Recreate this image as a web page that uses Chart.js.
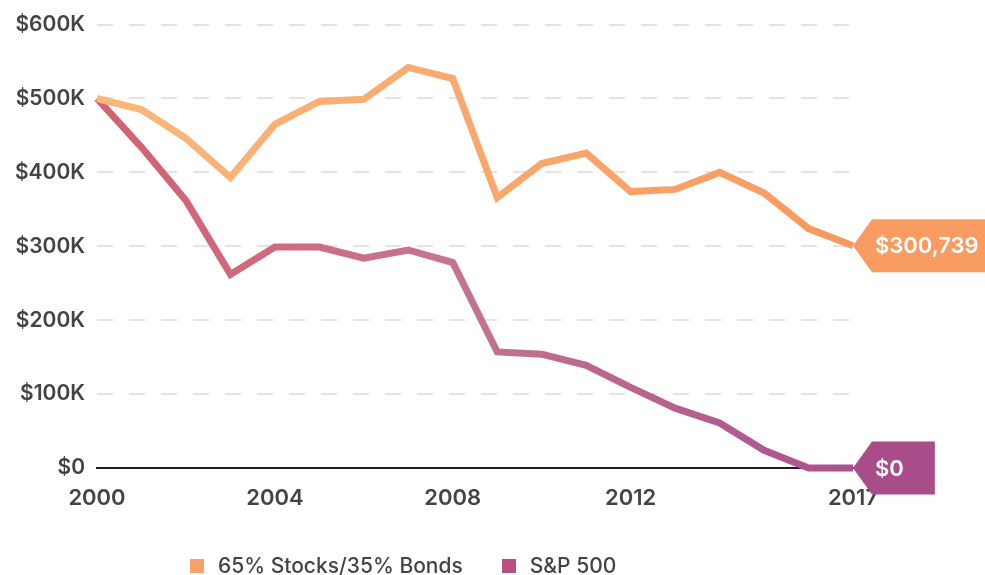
<!DOCTYPE html>
<html>
<head>
<meta charset="utf-8">
<script src="https://cdn.jsdelivr.net/npm/chart.js@4/dist/chart.umd.min.js"></script>
<style>
    html, body { margin: 0; padding: 0; background: #fff; }
    #wrap { position: relative; width: 985px; height: 575px; }
    #legend {
        position: absolute; left: 190px; top: 553px;
        display: flex; align-items: center;
        font-family: Inter, Lato, sans-serif; font-size: 21px; font-weight: 500; color: #444;
    }
    .sw { display: inline-block; width: 14px; height: 14px; margin-right: 14px; }
    .item { display: flex; align-items: center; margin-right: 39px; }
</style>
</head>
<body>
<div id="wrap">
    <canvas id="chart" width="985" height="575"></canvas>
    <div id="legend"></div>
</div>
<script>
// data
const years = ['2000', '2001', '2002', '2003', '2004', '2005', '2006', '2007', '2008',
    '2009', '2010', '2011', '2012', '2013', '2014', '2015', '2016', '2017'];
const balanced = [500000, 485000, 446000, 393000, 465000, 496000, 499000, 542000, 527000,
    366000, 412000, 426000, 374000, 377000, 400000, 372000, 324000, 300739];
const sp500 = [500000, 434000, 362000, 262000, 299000, 299000, 284000, 295000, 278000,
    157000, 154000, 139000, 109000, 81000, 61000, 24000, 0, 0];
const seriesNames = ['65% Stocks/35% Bonds', 'S&P 500'];
const endLabels = ['$300,739', '$0'];
const xTickLabels = ['2000', '2004', '2008', '2012', '2017'];
const yTickLabels = ['$0', '$100K', '$200K', '$300K', '$400K', '$500K', '$600K'];

const FONT = 'Inter, Lato, sans-serif';

function lineGradient(ctx, c1, c2, c3) {
    const area = ctx.chart.chartArea;
    if (!area) return c1;
    const g = ctx.chart.ctx.createLinearGradient(area.left, 0, area.right, 0);
    g.addColorStop(0, c1);
    if (c3) {
        g.addColorStop(0.45, c2);
        g.addColorStop(1, c3);
    } else {
        g.addColorStop(1, c2);
    }
    return g;
}

// arrow shaped value tags at the end of each line
const endTags = {
    id: 'endTags',
    afterDatasetsDraw(chart) {
        const ctx = chart.ctx;
        chart.data.datasets.forEach((ds, i) => {
            const meta = chart.getDatasetMeta(i);
            const pt = meta.data[meta.data.length - 1];
            const x = pt.x, y = pt.y;
            ctx.save();
            ctx.font = '600 22px ' + FONT;
            const tw = ctx.measureText(endLabels[i]).width;
            const h = 53;
            ctx.fillStyle = ds.tagColor;
            ctx.beginPath();
            ctx.moveTo(x, y);
            ctx.lineTo(x + 19, y - h / 2);
            ctx.lineTo(x + 22 + tw + 31, y - h / 2);
            ctx.lineTo(x + 22 + tw + 31, y + h / 2);
            ctx.lineTo(x + 19, y + h / 2);
            ctx.closePath();
            ctx.fill();
            ctx.fillStyle = '#fff';
            ctx.textBaseline = 'middle';
            ctx.fillText(endLabels[i], x + 22, y + 1);
            ctx.restore();
        });
    }
};

new Chart(document.getElementById('chart'), {
    type: 'line',
    data: {
        labels: years,
        datasets: [{
            label: seriesNames[0],
            data: balanced,
            borderColor: ctx => lineGradient(ctx, '#fbb87c', '#f8995f'),
            tagColor: '#f89c61',
            borderWidth: 7,
            pointRadius: 0,
            tension: 0,
            clip: false
        }, {
            label: seriesNames[1],
            data: sp500,
            borderColor: ctx => lineGradient(ctx, '#d4616f', '#c7758d', '#aa5190'),
            tagColor: '#a94c8a',
            borderWidth: 7,
            pointRadius: 0,
            tension: 0,
            clip: false
        }]
    },
    options: {
        responsive: false,
        animation: false,
        layout: { padding: { top: 24, right: 132, bottom: 67, left: 0 } },
        plugins: {
            legend: { display: false },
            tooltip: { enabled: false }
        },
        scales: {
            x: {
                grid: { display: false, drawTicks: false },
                border: { display: true, color: '#1e1e1e', width: 2 },
                ticks: {
                    autoSkip: false,
                    maxRotation: 0,
                    padding: 17,
                    color: '#444',
                    font: { family: FONT, size: 22, weight: '600' },
                    callback: function(v) {
                        const lab = this.getLabelForValue(v);
                        return xTickLabels.includes(lab) ? lab : null;
                    }
                },
                afterFit: s => { s.height = 40; }
            },
            y: {
                min: 0,
                max: 600000,
                grid: {
                    drawTicks: false,
                    lineWidth: 2,
                    color: c => c.tick && c.tick.value === 0 ? 'rgba(0,0,0,0)' : '#e4e4e4'
                },
                border: { display: false, dash: [16, 16] },
                ticks: {
                    stepSize: 100000,
                    padding: 12,
                    color: '#444',
                    font: { family: FONT, size: 21, weight: '600' },
                    callback: v => yTickLabels[Math.round(v / 100000)]
                },
                afterFit: s => { s.width = 97; }
            }
        }
    },
    plugins: [endTags]
});

// legend
const legendColors = ['#f9a06b', '#b85080'];
document.getElementById('legend').innerHTML = seriesNames.map((n, i) => `
    <span class="item"><span class="sw" style="background:${legendColors[i]}"></span>${n}</span>
`).join('');
</script>
</body>
</html>
